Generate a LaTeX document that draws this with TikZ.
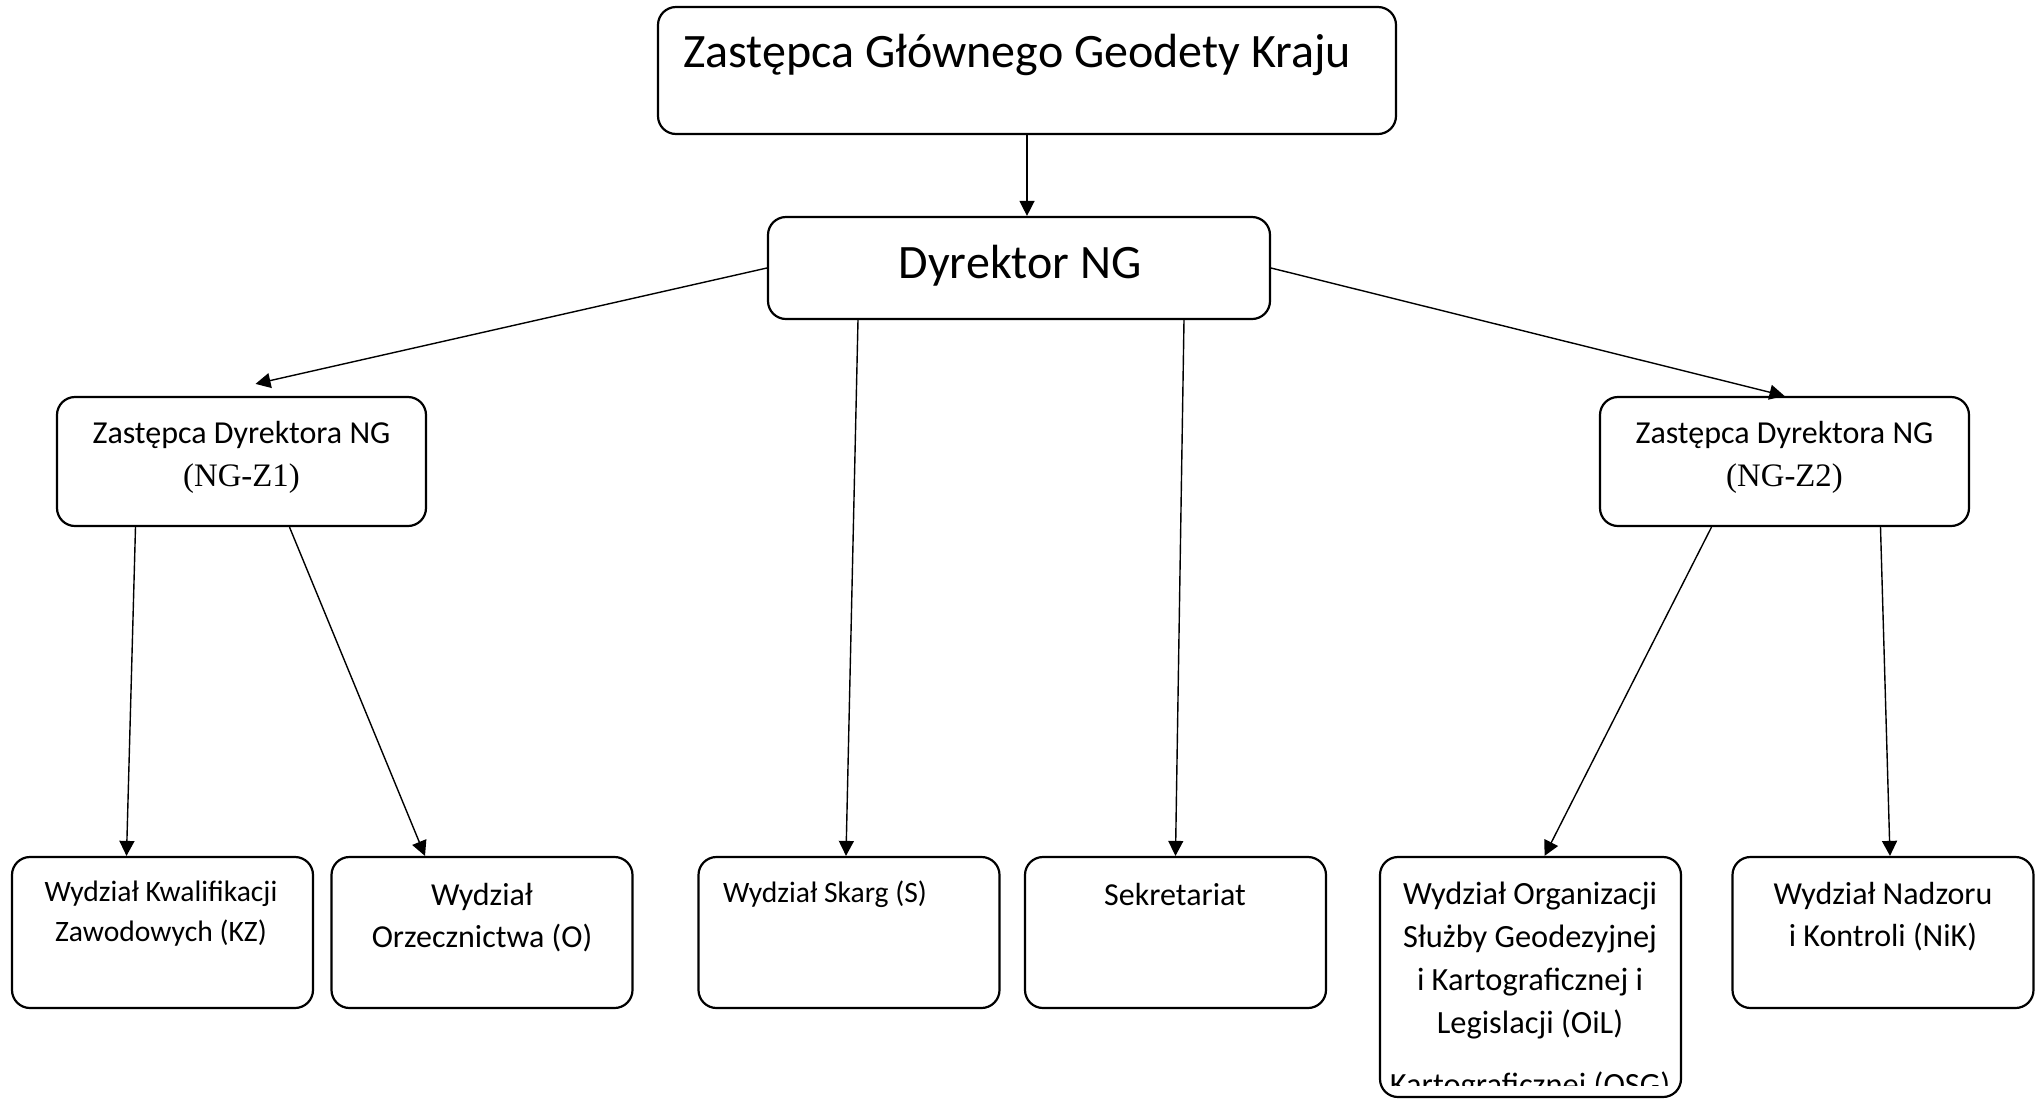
\documentclass[tikz,border=0pt]{standalone}
\usepackage{fontspec}
\setmainfont{Carlito}
\newfontfamily\serifpart{Liberation Serif}
\usetikzlibrary{arrows.meta,positioning,calc}

\tikzset{
    unit/.style={draw, line width=1.1pt, rounded corners=9pt, inner sep=0pt},
    lbl/.style={align=center, inner sep=0pt},
    conn/.style={-{Triangle[length=7.5pt,width=7.5pt]}, line width=0.7pt},
}

\begin{document}
\begin{tikzpicture}[x=0.5pt, y=-0.5pt]
    \useasboundingbox (0,0) rectangle (2042,1099);

    % Zastepca Glownego Geodety Kraju
    \node[unit, minimum width=369pt, minimum height=63.5pt] (zggk) at (1027,70.5) {};
    \node[lbl, font=\fontsize{24}{28}\selectfont] (zggk-t) at (1017,55) {Zastępca Głównego Geodety Kraju};

    % Dyrektor NG
    \node[unit, minimum width=251pt, minimum height=51pt] (dyr) at (1019,268) {};
    \node[lbl, font=\fontsize{24}{28}\selectfont] (dyr-t) at (1020,266) {Dyrektor NG};

    % Zastepcy dyrektora
    \node[unit, minimum width=184.5pt, minimum height=64.5pt] (z1) at (241.5,461.5) {};
    \node[lbl, font=\fontsize{16}{21.5}\selectfont] (z1-t) at (241.5,457) {Zastępca Dyrektora NG\\{\serifpart\fontsize{16.4}{21.5}\selectfont(NG-Z1)}};

    \node[unit, minimum width=184.5pt, minimum height=64.5pt] (z2) at (1784.5,461.5) {};
    \node[lbl, font=\fontsize{16}{21.5}\selectfont] (z2-t) at (1784.5,457) {Zastępca Dyrektora NG\\{\serifpart\fontsize{16.4}{21.5}\selectfont(NG-Z2)}};

    % Wydzialy
    \node[unit, minimum width=150.5pt, minimum height=75.5pt] (kz) at (162.5,932.5) {};
    \node[lbl, font=\fontsize{14.8}{20}\selectfont] (kz-t) at (161,914) {Wydział Kwalifikacji\\Zawodowych (KZ)};

    \node[unit, minimum width=150.5pt, minimum height=75.5pt] (o) at (482,932.5) {};
    \node[lbl, font=\fontsize{16}{21}\selectfont] (o-t) at (482,918) {Wydział\\Orzecznictwa (O)};

    \node[unit, minimum width=150.5pt, minimum height=75.5pt] (skarg) at (849,932.5) {};
    \node[lbl, font=\fontsize{14.8}{20}\selectfont] (skarg-t) at (825,894) {Wydział Skarg (S)};

    \node[unit, minimum width=150.5pt, minimum height=75.5pt] (sekr) at (1175.5,932.5) {};
    \node[lbl, font=\fontsize{16}{21}\selectfont] (sekr-t) at (1175,894) {Sekretariat};

    \node[unit, minimum width=150.5pt, minimum height=120pt] (oil) at (1530.5,977) {};
    \node[lbl, font=\fontsize{16.2}{21.5}\selectfont] (oil-t) at (1530,961) {Wydział Organizacji\\Służby Geodezyjnej\\i Kartograficznej i\\Legislacji (OiL)};
    \begin{scope}
        \clip (1382,1040) rectangle (1679,1085);
        \node[lbl, font=\fontsize{16.2}{21.5}\selectfont] (osg-t) at (1530,1086) {Kartograficznej (OSG)};
    \end{scope}

    \node[unit, minimum width=150.5pt, minimum height=75.5pt] (nik) at (1883,932.5) {};
    \node[lbl, font=\fontsize{16}{21}\selectfont] (nik-t) at (1883,917) {Wydział Nadzoru\\i Kontroli (NiK)};

    % Polaczenia
    \draw[conn] (zggk.south) -- (zggk.south |- dyr.north);
    \draw[conn] (dyr.west) -- ($(z1.north)+(14,-12)$);
    \draw[conn] (dyr.east) -- (z2.north);
    \draw[conn] ($(dyr.south)+(-161,0)$) -- ($(skarg.north)+(-3,0)$);
    \draw[conn] ($(dyr.south)+(165,0)$) -- (sekr.north);
    \draw[conn] ($(z1.south)+(-106,0)$) -- ($(kz.north)+(-36,0)$);
    \draw[conn] ($(z1.south)+(48,0)$) -- ($(o.north)+(-57,0)$);
    \draw[conn] ($(z2.south)+(-73,0)$) -- ($(oil.north)+(14,0)$);
    \draw[conn] ($(z2.south)+(96,0)$) -- ($(nik.north)+(7,0)$);
\end{tikzpicture}
\end{document}
